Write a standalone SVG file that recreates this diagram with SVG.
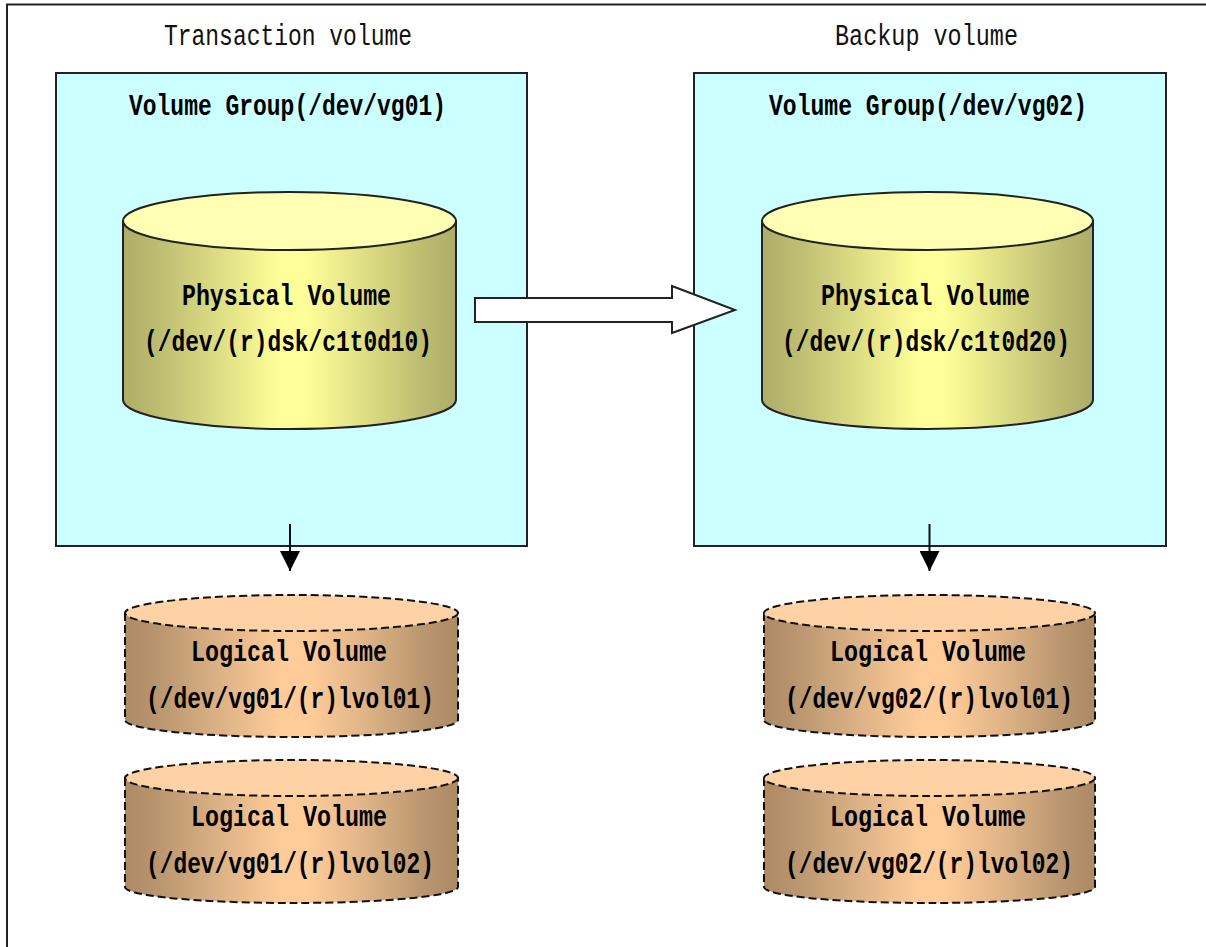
<svg xmlns="http://www.w3.org/2000/svg" width="1206" height="947" viewBox="0 0 1206 947">
<style>
.t{font-family:"Liberation Mono","DejaVu Sans Mono",monospace;font-size:29px;fill:#000}
.b{font-weight:bold}
.r{font-weight:normal;fill:#111}
.grp{fill:#ccffff;stroke:#222;stroke-width:2}
.ph{stroke:#222;stroke-width:2;fill:url(#pg)}
.pt{stroke:#222;stroke-width:2;fill:#ffffb3}
.lg{stroke:#111;stroke-width:2;stroke-dasharray:8 4;fill:url(#lgr)}
.lt{stroke:#111;stroke-width:2;stroke-dasharray:8 4;fill:#ffd2a6}
.ln{stroke:#111;stroke-width:2;fill:none}
</style>
<defs>
<linearGradient id="pg" x1="0" x2="1" y1="0" y2="0"><stop offset="0" stop-color="#aead68"/><stop offset=".1" stop-color="#bcbc71"/><stop offset=".3" stop-color="#dfdf85"/><stop offset=".47" stop-color="#ffff99"/><stop offset=".55" stop-color="#ffff99"/><stop offset=".72" stop-color="#dfdf85"/><stop offset=".9" stop-color="#bcbc71"/><stop offset="1" stop-color="#aead68"/></linearGradient>
<linearGradient id="lgr" x1="0" x2="1" y1="0" y2="0"><stop offset="0" stop-color="#ad8a63"/><stop offset=".1" stop-color="#b9966f"/><stop offset=".3" stop-color="#dfb487"/><stop offset=".47" stop-color="#ffcc99"/><stop offset=".55" stop-color="#ffcc99"/><stop offset=".72" stop-color="#dfb487"/><stop offset=".9" stop-color="#b9966f"/><stop offset="1" stop-color="#ad8a63"/></linearGradient>
<marker id="ah" markerUnits="userSpaceOnUse" markerWidth="20" markerHeight="20" refX="20" refY="10" orient="auto"><path d="M0 0L20 10L0 20z" fill="#000"/></marker>
</defs>
<rect width="1206" height="947" fill="#fff"/>
<path id="frame" d="M7 947V4.500H1206" fill="none" stroke="#222" stroke-width="2"/>
<text class="t r" x="164" y="45" textLength="248" lengthAdjust="spacingAndGlyphs">Transaction volume</text>
<text class="t r" x="835" y="45" textLength="183" lengthAdjust="spacingAndGlyphs">Backup volume</text>

<g id="vg01"><rect class="grp" x="56" y="73" width="471" height="473"/><text class="t b" x="129" y="115" textLength="317" lengthAdjust="spacingAndGlyphs">Volume Group(/dev/vg01)</text></g>
<g id="vg02"><rect class="grp" x="694" y="73" width="472" height="473"/><text class="t b" x="769" y="115" textLength="318" lengthAdjust="spacingAndGlyphs">Volume Group(/dev/vg02)</text></g>

<g id="pv1"><path class="ph" d="M123 221V400A166.500 29 0 0 0 456 400V221z"/><ellipse class="pt" cx="289.500" cy="221" rx="166.500" ry="29"/>
<text class="t b" x="182" y="305" textLength="209" lengthAdjust="spacingAndGlyphs">Physical Volume</text><text class="t b" x="144" y="351" textLength="288" lengthAdjust="spacingAndGlyphs">(/dev/(r)dsk/c1t0d10)</text></g>
<g id="pv2"><path class="ph" d="M762 221V400A165.500 29 0 0 0 1093 400V221z"/><ellipse class="pt" cx="927.500" cy="221" rx="165.500" ry="29"/>
<text class="t b" x="821" y="305" textLength="209" lengthAdjust="spacingAndGlyphs">Physical Volume</text><text class="t b" x="782" y="351" textLength="288" lengthAdjust="spacingAndGlyphs">(/dev/(r)dsk/c1t0d20)</text></g>

<g id="lv11"><path class="lg" d="M125 613V720A166.500 17 0 0 0 458 720V613z"/><ellipse class="lt" cx="291.500" cy="613" rx="166.500" ry="18"/>
<text class="t b" x="191" y="661" textLength="196" lengthAdjust="spacingAndGlyphs">Logical Volume</text><text class="t b" x="146" y="708" textLength="288" lengthAdjust="spacingAndGlyphs">(/dev/vg01/(r)lvol01)</text></g>
<g id="lv12"><path class="lg" d="M125 778V887A166.500 16 0 0 0 458 887V778z"/><ellipse class="lt" cx="291.500" cy="778" rx="166.500" ry="18"/>
<text class="t b" x="191" y="826" textLength="196" lengthAdjust="spacingAndGlyphs">Logical Volume</text><text class="t b" x="146" y="873" textLength="288" lengthAdjust="spacingAndGlyphs">(/dev/vg01/(r)lvol02)</text></g>
<g id="lv21"><path class="lg" d="M764 613V720A165.500 17 0 0 0 1095 720V613z"/><ellipse class="lt" cx="929.500" cy="613" rx="165.500" ry="18"/>
<text class="t b" x="830" y="661" textLength="196" lengthAdjust="spacingAndGlyphs">Logical Volume</text><text class="t b" x="785" y="708" textLength="288" lengthAdjust="spacingAndGlyphs">(/dev/vg02/(r)lvol01)</text></g>
<g id="lv22"><path class="lg" d="M764 778V887A165.500 16 0 0 0 1095 887V778z"/><ellipse class="lt" cx="929.500" cy="778" rx="165.500" ry="18"/>
<text class="t b" x="830" y="826" textLength="196" lengthAdjust="spacingAndGlyphs">Logical Volume</text><text class="t b" x="785" y="873" textLength="288" lengthAdjust="spacingAndGlyphs">(/dev/vg02/(r)lvol02)</text></g>

<g id="connectors">
<path class="ln" d="M290 524V571" marker-end="url(#ah)"/>
<path class="ln" d="M929.500 524V571" marker-end="url(#ah)"/>
<path d="M475 298H672V286L735 310L672 333V322H475z" fill="#fff" stroke="#222" stroke-width="2"/>
</g>
</svg>
